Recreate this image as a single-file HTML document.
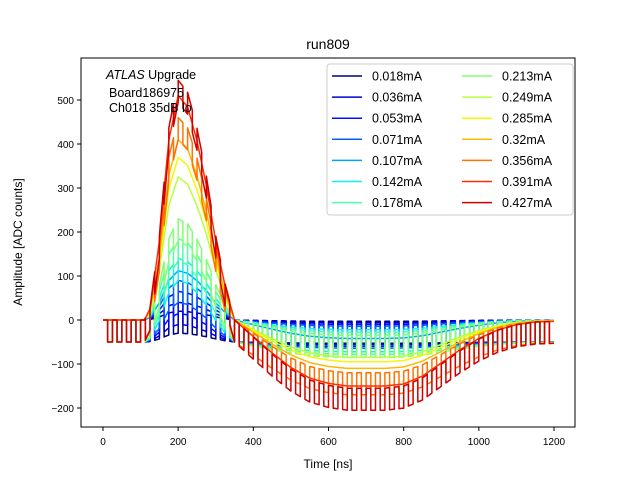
<!DOCTYPE html>
<html><head><meta charset="utf-8"><style>
body{margin:0;background:#fff}
svg{font-family:"Liberation Sans","DejaVu Sans",sans-serif}
</style></head><body>
<svg id="c" width="640" height="480" viewBox="0 0 640 480">
<rect width="640" height="480" fill="#fff"/>
<text x="328" y="49" font-size="14" text-anchor="middle">run809</text>
<g id="plot"></g>
<rect x="81" y="58" width="494" height="369" fill="none" stroke="#000" stroke-width="1"/>
<g id="ticks"></g>
<text x="328" y="468" font-size="12" text-anchor="middle">Time [ns]</text>
<text transform="translate(22,242) rotate(-90)" font-size="12" text-anchor="middle">Amplitude [ADC counts]</text>
<g font-size="12.5">
<text x="106" y="79"><tspan font-style="italic">ATLAS</tspan> Upgrade</text>
<text x="109" y="97">Board186975</text>
<text x="109" y="112">Ch018 35dB lo</text>
</g>
<g id="legend"></g>
</svg>
<script>
const currents=['0.018mA','0.036mA','0.053mA','0.071mA','0.107mA','0.142mA','0.178mA','0.213mA','0.249mA','0.285mA','0.32mA','0.356mA','0.391mA','0.427mA'];
const peaks=[20,40,65,90,112,140,185,230,325,370,410,460,510,545];
const undershoots=[-3,-6,-10,-14,-42,-22,-28,-35,-85,-95,-110,-120,-150,-155];
const oscillating=[1,1,1,1,0,1,1,1,0,0,0,1,0,1];
const shapeTimes=[0,110,125,150,175,200,225,250,275,300,325,350,400,450,500,550,600,650,700,750,800,850,900,950,1000,1050,1100,1150,1200];
const shapeValues=[0,0,0.05,0.35,0.8,1,0.95,0.8,0.6,0.35,0.15,0,-0.25,-0.5,-0.72,-0.88,-0.96,-1,-1,-1,-0.97,-0.85,-0.65,-0.45,-0.28,-0.15,-0.07,-0.03,-0.02];
const xTicks=[0,200,400,600,800,1000,1200];
const yTicks=[-200,-100,0,100,200,300,400,500];
const colors=['#000080','#0000d5','#0010ff','#0060ff','#00a4ff','#10f0e6','#4dffaa','#83ff73','#b7ff40','#f4f802','#ffb900','#ff7300','#ff3000','#d00000'];
const NS='http://www.w3.org/2000/svg';
const X=t=>103+t*(554-103)/1200;
const Y=v=>320-v*0.44;
function shape(t){for(let i=0;i<shapeTimes.length-1;i++){if(t<=shapeTimes[i+1]){const f=(t-shapeTimes[i])/(shapeTimes[i+1]-shapeTimes[i]);return shapeValues[i]+f*(shapeValues[i+1]-shapeValues[i]);}}return shapeValues[shapeValues.length-1];}
function val(s,t){const sv=shape(t);return sv>=0?sv*peaks[s]:-sv*undershoots[s];}
const plot=document.getElementById('plot');
currents.forEach((c,s)=>{
  const pts=[];
  for(let k=0;k<96;k++){
    const t0=k*12.5,t1=Math.min(t0+12.5,1200);
    const off=(oscillating[s]&&k%2===1)?-50:0;
    for(let j=0;j<=4;j++){const t=t0+(t1-t0)*j/4;pts.push(X(t).toFixed(1)+','+Y(val(s,t)+off).toFixed(1));}
  }
  const p=document.createElementNS(NS,'polyline');
  p.setAttribute('points',pts.join(' '));
  p.setAttribute('fill','none');p.setAttribute('stroke',colors[s]);p.setAttribute('stroke-width','1.5');p.setAttribute('stroke-linejoin','round');
  
  
  plot.appendChild(p);
});
const tk=document.getElementById('ticks');
xTicks.forEach(t=>{
  const l=document.createElementNS(NS,'line');l.setAttribute('x1',X(t));l.setAttribute('x2',X(t));l.setAttribute('y1',427);l.setAttribute('y2',431);l.setAttribute('stroke','#000');
  
  
  tk.appendChild(l);
  const tx=document.createElementNS(NS,'text');tx.setAttribute('x',X(t));tx.setAttribute('y',445);tx.setAttribute('font-size','10');tx.setAttribute('text-anchor','middle');tx.textContent=t;
  
  
  tk.appendChild(tx);
});
yTicks.forEach(v=>{
  const l=document.createElementNS(NS,'line');l.setAttribute('x1',77);l.setAttribute('x2',81);l.setAttribute('y1',Y(v));l.setAttribute('y2',Y(v));l.setAttribute('stroke','#000');
  
  
  tk.appendChild(l);
  const tx=document.createElementNS(NS,'text');tx.setAttribute('x',74);tx.setAttribute('y',Y(v)+4);tx.setAttribute('font-size','10');tx.setAttribute('text-anchor','end');tx.textContent=(v<0?'\u2212'+(-v):v);
  
  
  tk.appendChild(tx);
});
const lg=document.getElementById('legend');
const box=document.createElementNS(NS,'rect');
box.setAttribute('x',327);box.setAttribute('y',64);box.setAttribute('width',246);box.setAttribute('height',151);box.setAttribute('rx',3);box.setAttribute('fill','#fff');box.setAttribute('fill-opacity','0.85');box.setAttribute('stroke','#ccc');


lg.appendChild(box);
currents.forEach((c,i)=>{
  const col=i<7?0:1,row=i%7;const x0=col?462:332,y0=76+row*21.1;
  const g=document.createElementNS(NS,'g');
  
  
  const l=document.createElementNS(NS,'line');l.setAttribute('x1',x0);l.setAttribute('x2',x0+30);l.setAttribute('y1',y0);l.setAttribute('y2',y0);l.setAttribute('stroke',colors[i]);l.setAttribute('stroke-width','1.5');
  g.appendChild(l);
  const t=document.createElementNS(NS,'text');t.setAttribute('x',x0+40);t.setAttribute('y',y0+4.5);t.setAttribute('font-size','12.5');t.textContent=c;
  g.appendChild(t);
  lg.appendChild(g);
});
</script>
</body></html>
